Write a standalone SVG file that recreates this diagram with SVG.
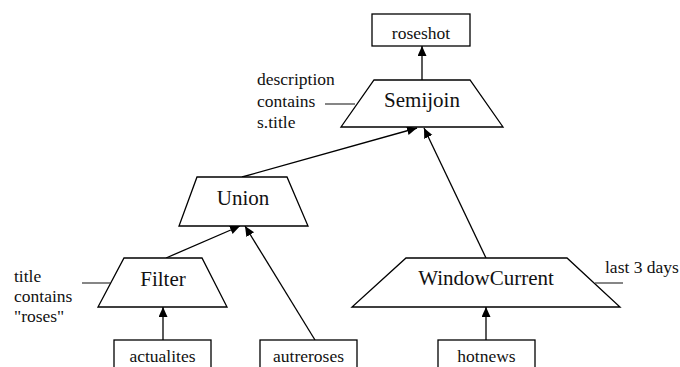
<svg xmlns="http://www.w3.org/2000/svg" width="680" height="367" viewBox="0 0 680 367">
  <defs>
    <marker id="arrow" markerUnits="userSpaceOnUse" markerWidth="11" markerHeight="10" refX="10" refY="4.5" orient="auto">
      <path d="M0,0 L10,4.5 L0,9 z" fill="#000"/>
    </marker>
  </defs>
  <style>
    .shape { fill: #fff; stroke: #000; stroke-width: 1.3; }
    .edge { stroke: #000; stroke-width: 1.3; fill: none; marker-end: url(#arrow); }
    .lead { stroke: #444; stroke-width: 1.3; }
    .op { font-family: "Liberation Serif", "Times New Roman", serif; font-size: 21px; text-anchor: middle; fill: #111; }
    .src { font-family: "Liberation Serif", "Times New Roman", serif; font-size: 17.5px; text-anchor: middle; fill: #111; }
    .note { font-family: "Liberation Serif", "Times New Roman", serif; font-size: 17.5px; fill: #111; }
  </style>
  <rect width="680" height="367" fill="#fff"/>

  <!-- connectors -->
  <g id="connectors">
    <line class="edge" x1="422" y1="80" x2="422" y2="46"/>
    <line class="edge" x1="242" y1="177" x2="417" y2="128"/>
    <line class="edge" x1="486" y1="258" x2="424" y2="128"/>
    <line class="edge" x1="166" y1="258" x2="240" y2="226"/>
    <line class="edge" x1="315" y1="340" x2="245" y2="226"/>
    <line class="edge" x1="163" y1="340" x2="163" y2="307"/>
    <line class="edge" x1="486" y1="340" x2="486" y2="307"/>
  </g>

  <g id="roseshot">
    <rect class="shape" x="372" y="14" width="98" height="32"/>
    <text class="src" x="421" y="39">roseshot</text>
  </g>

  <g id="semijoin">
    <polygon class="shape" points="374,80 470,80 503,127 341,127"/>
    <text class="op" x="422" y="107">Semijoin</text>
    <line class="lead" x1="325" y1="104" x2="355" y2="104"/>
    <text class="note" x="257" y="85">description</text>
    <text class="note" x="257" y="107">contains</text>
    <text class="note" x="257" y="128">s.title</text>
  </g>

  <g id="union">
    <polygon class="shape" points="197,177 287,177 308,226 179,226"/>
    <text class="op" x="243" y="205">Union</text>
  </g>

  <g id="filter">
    <polygon class="shape" points="124,258 202,258 227,307 98,307"/>
    <text class="op" x="163" y="286">Filter</text>
    <line class="lead" x1="82" y1="283" x2="110" y2="283"/>
    <text class="note" x="14" y="282">title</text>
    <text class="note" x="14" y="302">contains</text>
    <text class="note" x="14" y="322">"roses"</text>
  </g>

  <g id="windowcurrent">
    <polygon class="shape" points="406,258 567,258 620,307 352,307"/>
    <text class="op" x="486" y="285">WindowCurrent</text>
    <line class="lead" x1="595" y1="283" x2="623" y2="283"/>
    <text class="note" x="605" y="273">last 3 days</text>
  </g>

  <g id="actualites">
    <rect class="shape" x="114" y="340" width="97" height="40"/>
    <text class="src" x="162.5" y="362">actualites</text>
  </g>

  <g id="autreroses">
    <rect class="shape" x="260" y="340" width="97" height="40"/>
    <text class="src" x="308.5" y="362">autreroses</text>
  </g>

  <g id="hotnews">
    <rect class="shape" x="438" y="340" width="97" height="40"/>
    <text class="src" x="486.5" y="362">hotnews</text>
  </g>
</svg>
